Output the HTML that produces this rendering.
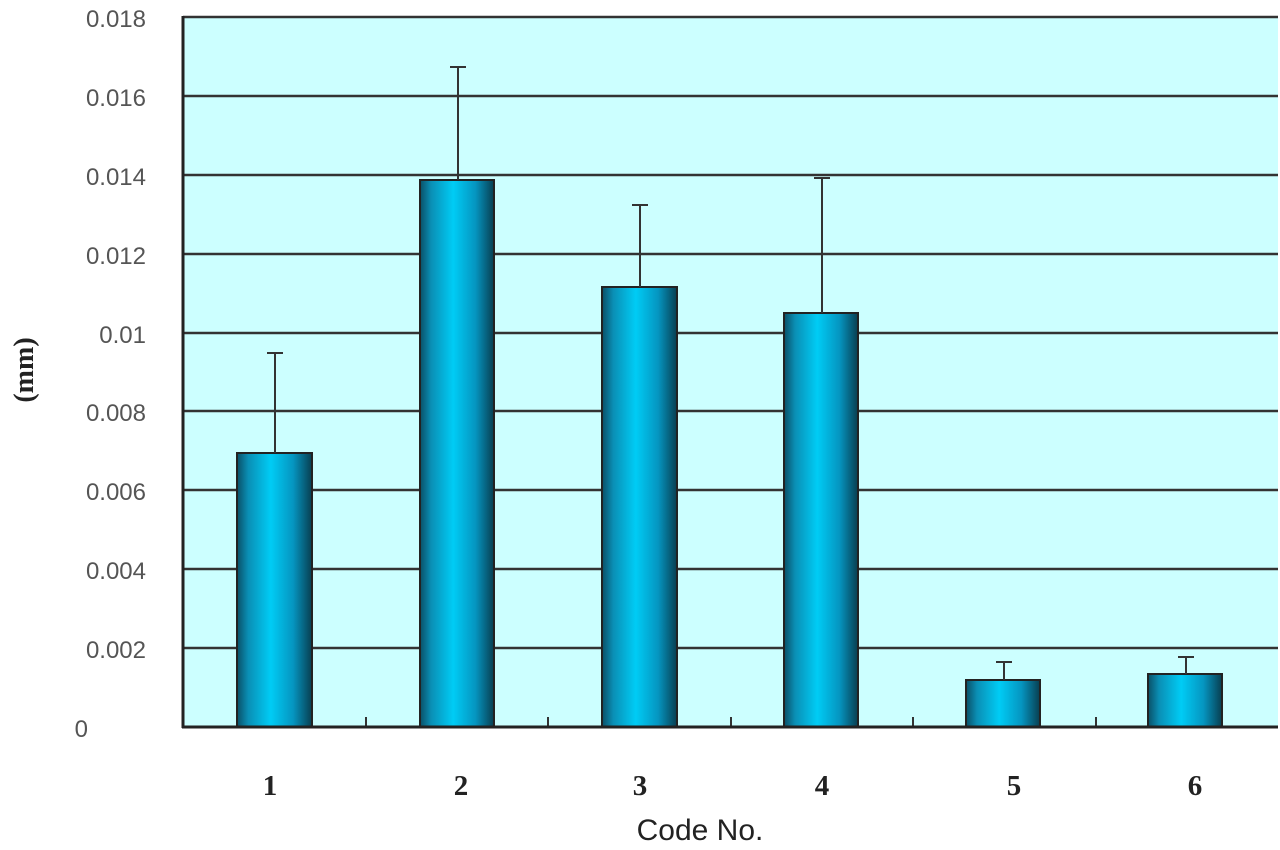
<!DOCTYPE html>
<html><head><style>body{margin:0;background:#fff}</style></head><body>
<svg width="1280" height="845" xmlns="http://www.w3.org/2000/svg">
<defs>
<linearGradient id="g" x1="0" x2="1" y1="0" y2="0">
<stop offset="0" stop-color="#0a4f66"/>
<stop offset="0.15" stop-color="#0a8fb5"/>
<stop offset="0.45" stop-color="#00ccf5"/>
<stop offset="0.75" stop-color="#0595c0"/>
<stop offset="1" stop-color="#083e50"/>
</linearGradient>
</defs>
<rect x="183" y="17" width="1095" height="710" fill="#ccffff"/>
<g stroke="#333" stroke-width="2.5">
<line x1="183" x2="1278" y1="17" y2="17"/>
<line x1="183" x2="1278" y1="96" y2="96"/>
<line x1="183" x2="1278" y1="175" y2="175"/>
<line x1="183" x2="1278" y1="254" y2="254"/>
<line x1="183" x2="1278" y1="333" y2="333"/>
<line x1="183" x2="1278" y1="411" y2="411"/>
<line x1="183" x2="1278" y1="490" y2="490"/>
<line x1="183" x2="1278" y1="569" y2="569"/>
<line x1="183" x2="1278" y1="648" y2="648"/>
</g>
<g fill="url(#g)" stroke="#222" stroke-width="2">
<rect x="237" y="453" width="75" height="274"/>
<rect x="420" y="180" width="74" height="547"/>
<rect x="602" y="287" width="75" height="440"/>
<rect x="784" y="313" width="74" height="414"/>
<rect x="966" y="680" width="74" height="47"/>
<rect x="1148" y="674" width="74" height="53"/>
</g>
<g stroke="#333" stroke-width="2">
<line x1="275" x2="275" y1="453" y2="353"/><line x1="267" x2="283" y1="353" y2="353"/>
<line x1="458" x2="458" y1="180" y2="67"/><line x1="450" x2="466" y1="67" y2="67"/>
<line x1="640" x2="640" y1="287" y2="205"/><line x1="632" x2="648" y1="205" y2="205"/>
<line x1="822" x2="822" y1="313" y2="178"/><line x1="814" x2="830" y1="178" y2="178"/>
<line x1="1004" x2="1004" y1="680" y2="662"/><line x1="996" x2="1012" y1="662" y2="662"/>
<line x1="1186" x2="1186" y1="674" y2="657"/><line x1="1178" x2="1194" y1="657" y2="657"/>
<line x1="366" x2="366" y1="717" y2="727"/><line x1="548" x2="548" y1="717" y2="727"/>
<line x1="731" x2="731" y1="717" y2="727"/><line x1="913" x2="913" y1="717" y2="727"/>
<line x1="1096" x2="1096" y1="717" y2="727"/>
</g>
<g stroke="#222" stroke-width="3" fill="none">
<line x1="183" x2="183" y1="16" y2="728"/>
<line x1="182" x2="1278" y1="727" y2="727"/>
</g>
<g font-family="Liberation Sans, sans-serif" font-size="24" fill="#555" text-anchor="end">
<text x="146" y="27">0.018</text><text x="146" y="106">0.016</text><text x="146" y="185">0.014</text>
<text x="146" y="264">0.012</text><text x="146" y="343">0.01</text><text x="146" y="421">0.008</text>
<text x="146" y="500">0.006</text><text x="146" y="579">0.004</text><text x="146" y="658">0.002</text>
<text x="88" y="737">0</text>
</g>
<g font-family="Liberation Serif, serif" font-size="29" font-weight="bold" fill="#222" text-anchor="middle">
<text x="270" y="795">1</text><text x="461" y="795">2</text><text x="640" y="795">3</text>
<text x="822" y="795">4</text><text x="1014" y="795">5</text><text x="1195" y="795">6</text>
</g>
<text x="700" y="840" font-family="Liberation Sans, sans-serif" font-size="30" fill="#222" text-anchor="middle">Code No.</text>
<text transform="translate(33,370) rotate(-90)" font-family="Liberation Serif, serif" font-size="28" font-weight="bold" fill="#222" text-anchor="middle">(mm)</text>
</svg>
</body></html>
